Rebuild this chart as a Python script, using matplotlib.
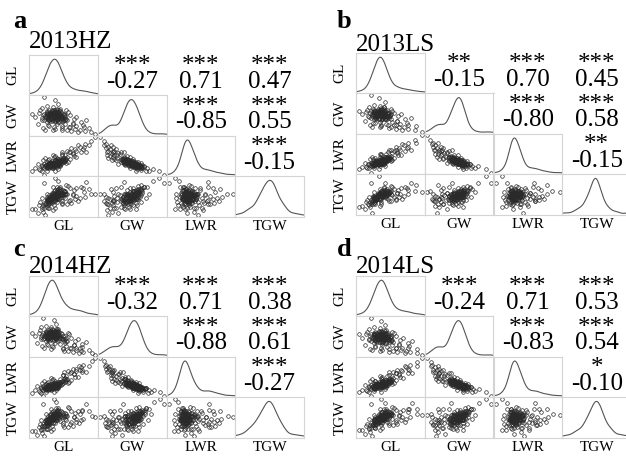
import numpy as np
import matplotlib
matplotlib.use('Agg')
import matplotlib.pyplot as plt

plt.rcParams['font.family'] = ['Liberation Serif', 'DejaVu Serif']

# Data: grain length (GL), grain width (GW), thousand grain weight (TGW); LWR = GL / GW
gl_13hz = [7.85, 8.12, 7.60, 8.45, 7.72, 8.02, 7.48, 8.90, 7.95, 7.35,
           8.25, 7.78, 7.66, 8.60, 7.90, 8.05, 7.55, 9.10, 7.82, 8.15,
           7.70, 7.98, 8.35, 7.42, 7.88, 8.72, 7.62, 8.08, 7.95, 7.25,
           8.50, 7.80, 7.58, 9.05, 7.92, 8.20, 7.68, 7.40, 8.82, 7.86,
           8.10, 7.52, 8.38, 7.75, 9.25, 7.96, 7.30, 8.28, 7.84, 8.65,
           7.64, 8.00, 7.45, 8.95, 7.90, 8.18, 7.70, 7.20, 8.42, 7.82,
           9.50, 7.58, 8.05, 7.95, 8.70, 7.38, 7.76, 8.30, 7.66, 8.12,
           7.50, 9.00, 7.88, 7.10, 8.55, 7.98, 7.45, 8.35, 7.62, 8.02,
           7.85, 8.75, 7.44, 8.22, 7.80, 9.15, 7.68, 8.08, 7.35, 8.48,
           7.92, 7.56, 8.62, 7.78, 8.15, 9.35, 7.60, 8.00, 6.95, 8.28,
           7.92, 7.74, 8.06, 7.60, 7.88, 8.18, 7.70, 7.98, 7.82, 8.30,
           7.66, 7.94, 8.12, 7.56, 7.86, 8.02, 7.76, 8.24, 7.62, 7.90,
           8.08, 7.72, 7.96, 7.84, 8.36, 7.58, 8.00, 7.68, 7.92, 8.14,
           7.80, 8.04, 7.64, 7.98, 8.20, 7.74, 7.88, 8.10, 7.52, 7.94,
           7.86, 8.28, 7.70, 8.00, 7.78, 8.16, 7.62, 7.90, 8.06, 7.80,
           7.96, 7.72, 8.12, 7.84, 7.58, 8.02, 7.76, 8.22, 7.90, 7.68]
gw_13hz = [3.05, 2.98, 3.10, 2.70, 2.95, 3.15, 3.02, 2.62, 3.20, 2.92,
           3.08, 3.12, 2.72, 2.80, 2.88, 3.02, 3.18, 2.58, 3.00, 2.68,
           3.08, 3.25, 2.95, 3.05, 2.65, 2.72, 2.98, 3.10, 2.78, 3.12,
           3.05, 3.30, 2.85, 2.70, 3.08, 2.92, 3.15, 2.68, 2.55, 3.00,
           3.18, 3.00, 2.62, 3.22, 2.66, 2.94, 3.20, 3.05, 2.70, 2.95,
           3.06, 3.12, 2.90, 2.85, 3.52, 2.60, 2.96, 2.80, 3.15, 3.08,
           2.48, 3.12, 2.85, 3.00, 2.65, 3.28, 2.88, 2.78, 3.20, 3.04,
           2.62, 2.75, 3.14, 3.00, 2.58, 2.92, 3.60, 3.20, 2.75, 2.98,
           3.22, 3.00, 3.10, 2.88, 2.60, 2.90, 3.02, 3.25, 2.98, 2.70,
           3.16, 3.34, 2.82, 3.05, 2.72, 2.55, 2.90, 3.40, 3.10, 2.95,
           3.02, 2.96, 3.08, 3.00, 3.12, 2.94, 3.06, 2.90, 3.16, 3.00,
           2.92, 3.04, 3.14, 3.08, 2.98, 2.86, 3.10, 3.06, 2.94, 3.20,
           3.00, 3.02, 2.94, 3.06, 2.90, 3.14, 3.10, 2.88, 3.08, 2.96,
           2.90, 3.16, 3.04, 3.02, 3.10, 2.98, 2.84, 3.04, 2.96, 3.12,
           3.00, 2.92, 3.12, 2.98, 3.08, 3.02, 3.10, 2.92, 3.22, 3.04,
           3.06, 2.94, 2.88, 3.14, 3.02, 3.00, 3.18, 2.96, 3.00, 3.08]
tgw_13hz = [24.3, 24.6, 23.5, 22.9, 22.7, 26.2, 22.0, 23.8, 26.0, 20.8,
            25.8, 24.6, 20.9, 24.8, 23.2, 24.8, 23.9, 24.1, 23.5, 22.5,
            24.1, 26.9, 25.0, 21.9, 21.1, 24.2, 22.8, 25.6, 22.6, 21.8,
            26.5, 26.7, 21.2, 25.4, 24.6, 24.7, 24.0, 19.8, 22.9, 23.8,
            26.3, 22.3, 22.0, 25.2, 26.3, 23.7, 22.6, 25.6, 21.8, 25.9,
            23.4, 25.3, 21.0, 26.7, 29.4, 22.0, 22.9, 19.5, 27.0, 24.4,
            24.8, 23.4, 23.6, 24.1, 23.5, 23.7, 22.5, 23.8, 24.6, 25.2,
            19.0, 26.5, 25.0, 20.6, 22.3, 23.6, 28.0, 27.4, 21.0, 24.3,
            25.8, 26.4, 22.5, 24.0, 20.5, 28.3, 23.2, 26.9, 21.2, 23.3,
            25.3, 25.0, 24.6, 24.0, 22.9, 25.0, 21.9, 28.4, 20.6, 24.9,
            24.3, 23.1, 25.2, 22.9, 25.0, 24.6, 23.9, 23.5, 25.1, 25.4,
            22.5, 24.4, 26.0, 23.3, 23.8, 23.6, 24.5, 25.7, 22.4, 25.9,
            24.7, 23.4, 23.9, 24.3, 24.8, 23.6, 25.1, 22.3, 24.8, 24.5,
            23.0, 25.8, 23.1, 24.3, 25.9, 23.2, 22.8, 25.0, 22.0, 25.3,
            24.0, 24.9, 24.1, 24.2, 24.2, 25.1, 23.5, 23.5, 26.4, 23.9,
            24.6, 22.9, 24.0, 24.9, 22.8, 24.4, 24.9, 24.8, 24.1, 23.6]

gl_13ls = [7.92, 8.05, 7.66, 8.52, 7.70, 8.10, 7.55, 8.84, 7.90, 7.42,
           8.30, 7.84, 7.60, 8.55, 7.96, 8.00, 7.62, 9.00, 7.78, 8.20,
           7.75, 8.04, 8.28, 7.48, 7.92, 8.66, 7.68, 8.02, 7.88, 7.32,
           8.44, 7.86, 7.64, 8.98, 7.85, 8.14, 7.74, 7.46, 8.76, 7.80,
           8.16, 7.58, 8.32, 7.80, 9.30, 7.90, 7.36, 8.22, 7.90, 8.58,
           7.70, 8.06, 7.50, 8.88, 7.84, 8.24, 7.76, 7.26, 8.36, 7.88,
           9.55, 7.64, 8.10, 7.90, 8.64, 7.44, 7.82, 8.36, 7.60, 8.18,
           7.56, 8.95, 7.82, 7.16, 8.50, 8.04, 7.50, 8.30, 7.68, 7.96,
           7.90, 8.70, 7.50, 8.16, 7.86, 9.10, 7.74, 8.02, 7.40, 8.42,
           7.86, 7.62, 8.56, 7.84, 8.10, 9.25, 7.66, 8.06, 7.02, 8.22,
           7.96, 7.78, 8.02, 7.64, 7.84, 8.14, 7.74, 7.94, 7.86, 8.26,
           7.70, 7.98, 8.08, 7.60, 7.90, 8.06, 7.80, 8.20, 7.66, 7.94,
           8.04, 7.76, 8.00, 7.88, 8.32, 7.62, 7.96, 7.72, 7.88, 8.10,
           7.84, 8.00, 7.68, 8.02, 8.16, 7.78, 7.92, 8.06, 7.56, 7.98,
           7.90, 8.24, 7.74, 8.04, 7.82, 8.12, 7.66, 7.94, 8.02, 7.84,
           8.00, 7.76, 8.08, 7.88, 7.62, 7.98, 7.80, 8.18, 7.86, 7.72]
gw_13ls = [3.08, 3.02, 3.12, 2.74, 2.99, 3.12, 3.04, 2.68, 3.16, 2.96,
           3.05, 3.10, 2.80, 2.86, 2.92, 3.05, 3.15, 2.64, 3.02, 2.74,
           3.06, 3.22, 2.98, 3.08, 2.72, 2.78, 3.00, 3.12, 2.84, 3.10,
           3.08, 3.26, 2.90, 2.76, 3.10, 2.96, 3.12, 2.74, 2.62, 3.04,
           3.14, 3.02, 2.68, 3.18, 2.72, 2.98, 3.16, 3.08, 2.76, 2.98,
           3.08, 3.10, 2.94, 2.90, 3.48, 2.66, 2.99, 2.86, 3.12, 3.06,
           2.55, 3.10, 2.90, 3.03, 2.70, 3.24, 2.92, 2.82, 3.18, 3.06,
           2.70, 2.80, 3.12, 3.04, 2.64, 2.95, 3.56, 3.18, 2.80, 3.00,
           3.20, 3.04, 3.12, 2.92, 2.68, 2.94, 3.04, 3.22, 3.00, 2.76,
           3.14, 3.30, 2.86, 3.07, 2.78, 2.60, 2.94, 3.36, 3.12, 2.98,
           3.04, 2.98, 3.06, 3.02, 3.10, 2.96, 3.08, 2.92, 3.14, 3.02,
           2.94, 3.06, 3.12, 3.10, 3.00, 2.90, 3.08, 3.04, 2.96, 3.18,
           3.02, 3.04, 2.96, 3.08, 2.92, 3.12, 3.08, 2.90, 3.06, 2.98,
           2.92, 3.14, 3.06, 3.00, 3.08, 3.00, 2.88, 3.02, 2.98, 3.10,
           3.02, 2.94, 3.10, 3.00, 3.06, 3.04, 3.08, 2.94, 3.18, 3.06,
           3.04, 2.96, 2.90, 3.12, 3.04, 3.02, 3.16, 2.98, 3.02, 3.06]
tgw_13ls = [24.6, 24.9, 23.9, 23.4, 23.2, 25.8, 22.6, 24.2, 25.5, 21.6,
            25.5, 24.4, 21.9, 25.0, 23.8, 24.6, 24.0, 24.6, 23.9, 23.2,
            24.0, 26.4, 25.2, 22.6, 22.0, 24.5, 23.1, 25.2, 23.1, 22.4,
            26.0, 26.0, 22.2, 25.8, 24.5, 24.8, 24.2, 21.0, 23.4, 24.0,
            25.9, 22.9, 22.8, 25.0, 26.9, 24.0, 22.9, 25.4, 22.6, 25.6,
            23.8, 25.0, 21.9, 26.4, 29.5, 22.8, 23.4, 20.6, 26.5, 24.5,
            25.2, 23.8, 24.2, 24.3, 23.9, 23.9, 23.2, 24.3, 24.2, 25.3,
            19.5, 26.2, 24.6, 21.4, 23.0, 24.2, 27.5, 26.8, 21.9, 24.2,
            25.5, 26.2, 23.0, 24.4, 21.5, 27.6, 23.8, 26.3, 22.0, 23.9,
            25.0, 25.1, 24.9, 24.3, 23.5, 25.4, 22.6, 27.6, 21.2, 24.8,
            24.5, 23.6, 24.9, 23.4, 24.6, 24.6, 24.1, 23.8, 24.9, 25.2,
            23.0, 24.5, 25.4, 23.7, 24.1, 23.9, 24.4, 25.2, 23.0, 25.3,
            24.7, 23.8, 24.0, 24.5, 24.7, 23.8, 24.8, 22.9, 24.5, 24.5,
            23.4, 25.3, 23.6, 24.3, 25.3, 23.7, 23.3, 24.6, 22.7, 24.9,
            24.2, 24.7, 24.1, 24.3, 24.2, 24.9, 23.7, 23.8, 25.6, 24.2,
            24.5, 23.4, 24.0, 24.8, 23.3, 24.3, 24.7, 24.7, 24.2, 23.8]

gl_14hz = [7.80, 8.18, 7.55, 8.52, 7.66, 7.96, 7.42, 8.98, 7.88, 7.30,
           8.32, 7.72, 7.60, 8.68, 7.84, 8.00, 7.50, 9.10, 7.76, 8.22,
           7.64, 7.92, 8.42, 7.36, 7.82, 8.80, 7.56, 8.02, 7.90, 7.20,
           8.58, 7.74, 7.52, 8.95, 7.86, 8.26, 7.62, 7.34, 8.92, 7.80,
           8.04, 7.46, 8.46, 7.70, 9.35, 7.90, 7.24, 8.36, 7.78, 8.74,
           7.58, 7.94, 7.40, 9.05, 7.84, 8.26, 7.64, 7.14, 8.50, 7.76,
           9.60, 7.52, 8.12, 7.88, 8.80, 7.32, 7.70, 8.38, 7.60, 8.06,
           7.44, 9.05, 7.82, 7.04, 8.64, 7.92, 7.40, 8.44, 7.56, 7.96,
           7.78, 8.86, 7.38, 8.30, 7.74, 9.20, 7.62, 8.02, 7.28, 8.56,
           7.86, 7.50, 8.72, 7.72, 8.22, 9.45, 7.54, 7.94, 6.90, 8.36,
           7.84, 7.66, 8.00, 7.52, 7.80, 8.12, 7.62, 7.92, 7.74, 8.24,
           7.58, 7.86, 8.06, 7.48, 7.78, 7.96, 7.68, 8.18, 7.54, 7.82,
           8.02, 7.64, 7.88, 7.76, 8.30, 7.50, 7.94, 7.60, 7.84, 8.08,
           7.72, 7.98, 7.56, 7.90, 8.14, 7.66, 7.80, 8.04, 7.44, 7.86,
           7.78, 8.22, 7.62, 7.92, 7.70, 8.10, 7.54, 7.82, 8.00, 7.72,
           7.88, 7.64, 8.06, 7.76, 7.50, 7.94, 7.68, 8.16, 7.82, 7.60]
gw_14hz = [3.08, 2.94, 3.14, 2.66, 2.98, 3.18, 3.05, 2.58, 3.22, 2.95,
           3.04, 3.15, 2.76, 2.76, 2.92, 3.06, 3.20, 2.54, 3.04, 2.64,
           3.12, 3.28, 2.90, 3.08, 2.70, 2.68, 3.02, 3.14, 2.82, 3.15,
           3.00, 3.34, 2.88, 2.66, 3.12, 2.88, 3.18, 2.72, 2.52, 3.04,
           3.22, 3.04, 2.58, 3.26, 2.62, 2.98, 3.24, 3.00, 2.74, 2.90,
           3.10, 3.16, 2.94, 2.80, 3.55, 2.56, 3.00, 2.84, 3.10, 3.12,
           2.44, 3.16, 2.80, 3.04, 2.60, 3.32, 2.92, 2.74, 3.24, 3.08,
           2.66, 2.70, 3.18, 3.04, 2.54, 2.96, 3.62, 3.15, 2.80, 3.02,
           3.26, 2.95, 3.14, 2.84, 2.64, 2.86, 3.06, 3.28, 3.02, 2.66,
           3.20, 3.38, 2.78, 3.08, 2.68, 2.50, 2.94, 3.44, 3.14, 2.90,
           3.06, 3.00, 3.12, 3.04, 3.16, 2.98, 3.10, 2.94, 3.20, 3.04,
           2.96, 3.08, 3.18, 3.12, 3.02, 2.90, 3.14, 3.10, 2.98, 3.24,
           3.04, 3.06, 2.98, 3.10, 2.94, 3.18, 3.14, 2.92, 3.12, 3.00,
           2.94, 3.20, 3.08, 3.06, 3.14, 3.02, 2.88, 3.08, 3.00, 3.16,
           3.04, 2.96, 3.16, 3.02, 3.12, 3.06, 3.14, 2.96, 3.26, 3.08,
           3.10, 2.98, 2.92, 3.18, 3.06, 3.04, 3.22, 3.00, 3.04, 3.12]
tgw_14hz = [24.0, 24.3, 23.6, 22.5, 22.4, 25.9, 21.8, 23.4, 25.6, 20.7,
            25.4, 24.4, 21.0, 24.3, 23.0, 24.6, 23.8, 23.7, 23.6, 22.1,
            24.0, 26.6, 24.6, 21.8, 21.2, 23.9, 22.7, 25.4, 22.7, 21.7,
            26.0, 26.5, 21.2, 25.0, 24.6, 24.3, 24.0, 19.9, 22.6, 23.9,
            26.2, 22.2, 21.6, 25.1, 26.0, 23.7, 22.5, 25.2, 21.8, 25.5,
            23.4, 25.2, 21.1, 26.3, 29.2, 21.6, 22.9, 19.6, 26.6, 24.4,
            24.4, 23.4, 23.2, 24.0, 23.1, 23.6, 22.5, 23.5, 24.6, 25.1,
            19.2, 26.0, 25.0, 20.6, 21.9, 23.6, 27.8, 27.0, 21.2, 24.2,
            25.7, 26.0, 22.5, 23.7, 20.6, 27.9, 23.2, 26.8, 21.2, 22.9,
            25.3, 25.0, 24.2, 24.0, 22.6, 24.6, 21.9, 28.3, 20.6, 24.5,
            24.2, 23.0, 25.1, 22.8, 24.9, 24.5, 23.8, 23.4, 25.0, 25.3,
            22.4, 24.3, 25.9, 23.2, 23.7, 23.5, 24.4, 25.6, 22.3, 25.8,
            24.6, 23.3, 23.8, 24.2, 24.7, 23.5, 25.0, 22.2, 24.7, 24.4,
            22.9, 25.7, 23.0, 24.2, 25.8, 23.1, 22.7, 24.9, 21.9, 25.2,
            23.9, 24.8, 24.0, 24.1, 24.1, 25.0, 23.4, 23.4, 26.3, 23.8,
            24.5, 22.8, 23.9, 24.8, 22.7, 24.3, 24.8, 24.7, 24.0, 23.5]

gl_14ls = [7.88, 8.08, 7.62, 8.48, 7.74, 8.06, 7.52, 8.86, 7.92, 7.38,
           8.28, 7.80, 7.62, 8.58, 7.92, 8.02, 7.58, 9.02, 7.80, 8.18,
           7.72, 8.00, 8.32, 7.45, 7.90, 8.70, 7.65, 8.05, 7.92, 7.28,
           8.48, 7.82, 7.60, 8.92, 7.90, 8.18, 7.70, 7.42, 8.80, 7.84,
           8.14, 7.55, 8.36, 7.78, 9.28, 7.94, 7.32, 8.26, 7.86, 8.62,
           7.66, 8.04, 7.48, 8.92, 7.88, 8.20, 7.72, 7.22, 8.40, 7.84,
           9.50, 7.60, 8.08, 7.92, 8.68, 7.40, 7.78, 8.32, 7.62, 8.14,
           7.52, 8.98, 7.86, 7.12, 8.52, 8.00, 7.46, 8.32, 7.64, 7.98,
           7.88, 8.72, 7.46, 8.20, 7.82, 9.10, 7.70, 8.05, 7.38, 8.45,
           7.90, 7.58, 8.58, 7.80, 8.12, 9.30, 7.62, 8.02, 6.98, 8.25,
           7.94, 7.76, 8.04, 7.62, 7.86, 8.16, 7.72, 7.96, 7.84, 8.28,
           7.68, 7.96, 8.10, 7.58, 7.88, 8.04, 7.78, 8.22, 7.64, 7.92,
           8.06, 7.74, 7.98, 7.86, 8.34, 7.60, 7.98, 7.70, 7.90, 8.12,
           7.82, 8.02, 7.66, 8.00, 8.18, 7.76, 7.90, 8.08, 7.54, 7.96,
           7.88, 8.26, 7.72, 8.02, 7.80, 8.14, 7.64, 7.92, 8.04, 7.82,
           7.98, 7.74, 8.10, 7.86, 7.60, 8.00, 7.78, 8.20, 7.88, 7.70]
gw_14ls = [3.06, 3.00, 3.12, 2.72, 2.97, 3.14, 3.03, 2.64, 3.18, 2.94,
           3.06, 3.11, 2.76, 2.82, 2.90, 3.04, 3.16, 2.60, 3.01, 2.70,
           3.07, 3.24, 2.96, 3.06, 2.68, 2.74, 2.99, 3.11, 2.80, 3.11,
           3.06, 3.28, 2.88, 2.72, 3.09, 2.94, 3.14, 2.70, 2.58, 3.02,
           3.16, 3.01, 2.64, 3.20, 2.70, 2.96, 3.18, 3.06, 2.72, 2.96,
           3.07, 3.11, 2.92, 2.88, 3.50, 2.62, 2.98, 2.82, 3.14, 3.07,
           2.52, 3.11, 2.88, 3.02, 2.68, 3.26, 2.90, 2.80, 3.19, 3.05,
           2.66, 2.78, 3.13, 3.02, 2.62, 2.94, 3.58, 3.19, 2.78, 2.99,
           3.21, 3.02, 3.11, 2.90, 2.64, 2.92, 3.03, 3.24, 2.99, 2.72,
           3.15, 3.32, 2.84, 3.06, 2.75, 2.58, 2.92, 3.38, 3.11, 2.96,
           3.03, 2.97, 3.07, 3.01, 3.11, 2.95, 3.07, 2.91, 3.15, 3.01,
           2.93, 3.05, 3.13, 3.09, 2.99, 2.88, 3.09, 3.05, 2.95, 3.19,
           3.01, 3.03, 2.95, 3.07, 2.91, 3.13, 3.09, 2.89, 3.07, 2.97,
           2.91, 3.15, 3.05, 3.01, 3.09, 2.99, 2.86, 3.03, 2.97, 3.11,
           3.01, 2.93, 3.11, 2.99, 3.07, 3.03, 3.09, 2.93, 3.20, 3.05,
           3.05, 2.95, 2.89, 3.13, 3.03, 3.01, 3.17, 2.97, 3.01, 3.07]
tgw_14ls = [24.4, 24.8, 23.8, 23.2, 23.0, 26.0, 22.4, 24.0, 25.8, 21.2,
            25.7, 24.5, 21.4, 24.9, 23.5, 24.7, 24.0, 24.4, 23.7, 22.9,
            24.1, 26.6, 25.1, 22.2, 21.5, 24.3, 22.9, 25.4, 22.9, 22.0,
            26.3, 26.4, 21.7, 25.6, 24.6, 24.7, 24.1, 20.4, 23.1, 23.9,
            26.1, 22.6, 22.4, 25.1, 26.6, 23.9, 22.7, 25.5, 22.2, 25.7,
            23.6, 25.1, 21.5, 26.5, 29.2, 22.4, 23.1, 20.0, 26.8, 24.4,
            25.0, 23.6, 23.9, 24.2, 23.7, 23.8, 22.8, 24.0, 24.4, 25.2,
            19.4, 26.4, 24.8, 21.0, 22.7, 23.9, 27.8, 27.1, 21.4, 24.2,
            25.6, 26.3, 22.8, 24.2, 21.0, 28.0, 23.5, 26.6, 21.6, 23.6,
            25.1, 25.0, 24.7, 24.1, 23.2, 25.2, 22.2, 28.0, 20.9, 24.8,
            24.4, 23.3, 25.0, 23.1, 24.8, 24.6, 24.0, 23.6, 25.0, 25.3,
            22.7, 24.4, 25.7, 23.5, 24.0, 23.7, 24.4, 25.5, 22.7, 25.6,
            24.7, 23.6, 24.0, 24.4, 24.8, 23.7, 25.0, 22.6, 24.6, 24.5,
            23.2, 25.5, 23.4, 24.3, 25.6, 23.5, 23.0, 24.8, 22.4, 25.1,
            24.1, 24.8, 24.1, 24.2, 24.2, 25.0, 23.6, 23.7, 26.0, 24.0,
            24.5, 23.2, 24.0, 24.8, 23.0, 24.4, 24.8, 24.8, 24.2, 23.7]

traits = ['GL', 'GW', 'LWR', 'TGW']

# correlation labels, pair order: GL-GW, GL-LWR, GL-TGW, GW-LWR, GW-TGW, LWR-TGW
stars_13hz = ['***', '***', '***', '***', '***', '***']
r_13hz = [-0.27, 0.71, 0.47, -0.85, 0.55, -0.15]
stars_13ls = ['**', '***', '***', '***', '***', '**']
r_13ls = [-0.15, 0.70, 0.45, -0.80, 0.58, -0.15]
stars_14hz = ['***', '***', '***', '***', '***', '***']
r_14hz = [-0.32, 0.71, 0.38, -0.88, 0.61, -0.27]
stars_14ls = ['***', '***', '***', '***', '***', '*']
r_14ls = [-0.24, 0.71, 0.53, -0.83, 0.54, -0.10]

panels = [
    ('a', '2013HZ', gl_13hz, gw_13hz, tgw_13hz, stars_13hz, r_13hz),
    ('b', '2013LS', gl_13ls, gw_13ls, tgw_13ls, stars_13ls, r_13ls),
    ('c', '2014HZ', gl_14hz, gw_14hz, tgw_14hz, stars_14hz, r_14hz),
    ('d', '2014LS', gl_14ls, gw_14ls, tgw_14ls, stars_14ls, r_14ls),
]

# layout in pixels: grid left/top, letter pos, title baseline
layout = {
    'a': dict(grid=(29, 55), letter=(13, 28), title=48),
    'b': dict(grid=(356, 53), letter=(337, 28), title=51),
    'c': dict(grid=(29, 276), letter=(13, 256), title=273),
    'd': dict(grid=(356, 276), letter=(337, 256), title=273),
}
cw, ch = 68.75, 40.4

W, H = 626, 458
fig = plt.figure(figsize=(W / 100, H / 100), dpi=100)


def fx(x):
    return x / W


def fy(y):
    return 1 - y / H


def kde(v, grid):
    # gaussian kernel, bandwidth from the standard deviation
    n = len(v)
    bw = 0.95 * v.std(ddof=1) * n ** -0.2
    z = (grid[:, None] - v[None, :]) / bw
    return np.exp(-0.5 * z ** 2).sum(1) / (n * bw * np.sqrt(2 * np.pi))


frame_col = '#d4d4d4'

for letter, title, gl, gw, tgw, stars, rs in panels:
    gl, gw, tgw = np.array(gl), np.array(gw), np.array(tgw)
    cols = [gl, gw, gl / gw, tgw]
    lims = []
    for v in cols:
        lo, hi = v.min(), v.max()
        pad = 0.04 * (hi - lo)
        lims.append((lo - pad, hi + pad))

    x0, y0 = layout[letter]['grid']
    lx, ly = layout[letter]['letter']
    fig.text(fx(lx), fy(ly), letter, fontsize=19, fontweight='bold', va='baseline', ha='left')
    fig.text(fx(x0), fy(layout[letter]['title']), title, fontsize=18, va='baseline', ha='left')

    k = 0
    for i in range(4):
        for j in range(4):
            l = x0 + j * cw
            t = y0 + i * ch
            if j > i:
                # stars above the coefficient, one text block
                fig.text(fx(l + cw / 2), fy(t + 33), f'{stars[k]}\n{rs[k]:.2f}', fontsize=18,
                         ha='center', va='baseline', multialignment='center', linespacing=0.62)
                k += 1
                continue
            ax = fig.add_axes([fx(l), fy(t + ch), cw / W, ch / H])
            if i == j:
                g = np.linspace(lims[j][0], lims[j][1], 300)
                d = kde(cols[j], g)
                ax.plot(g, d, color='#555555', lw=0.8)
                ax.set_ylim(-0.03 * d.max(), d.max() * 1.12)
            else:
                ax.plot(cols[j], cols[i], 'o', ms=2.6, mfc='none', mec='#2a2a2a', mew=0.5)
                ax.set_ylim(*lims[i])
            ax.set_xlim(*lims[j])
            ax.set_xticks([])
            ax.set_yticks([])
            for s in ax.spines.values():
                s.set_color(frame_col)
                s.set_linewidth(0.8)
            if j == 0:
                fig.text(fx(x0 - 16), fy(t + ch / 2), traits[i], fontsize=11, rotation=90,
                         ha='center', va='center')
            if i == 3:
                fig.text(fx(l + cw / 2), fy(t + ch + 3), traits[j], fontsize=11,
                         ha='center', va='top')

fig.savefig('out.png', dpi=100)
